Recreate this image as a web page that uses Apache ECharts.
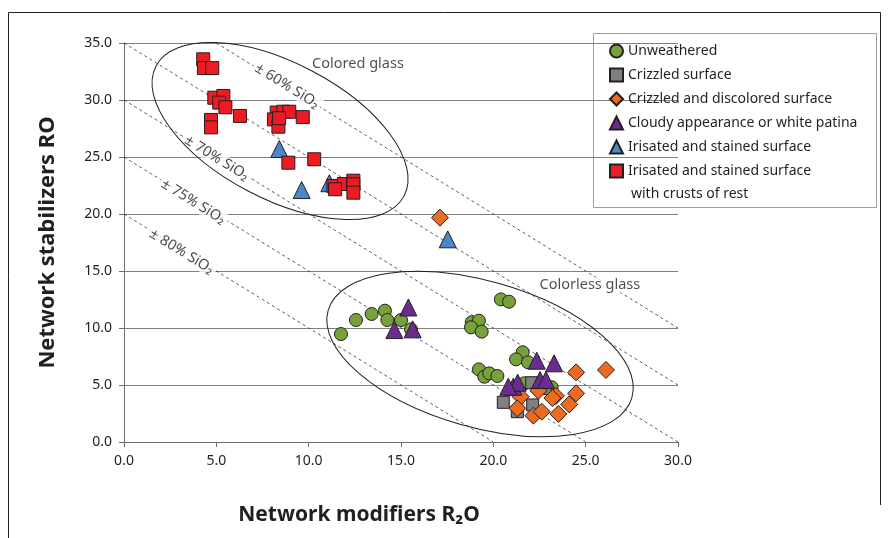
<!DOCTYPE html>
<html>
<head>
<meta charset="utf-8">
<script src="https://cdn.jsdelivr.net/npm/echarts@6/dist/echarts.min.js"></script>
<style>html,body{margin:0;padding:0;background:#fff}#c{width:893px;height:538px}</style>
</head>
<body>
<div id="c"></div>
<script>
// ---- data ----
const xTicks = [0, 5, 10, 15, 20, 25, 30];
const yTicks = [0, 5, 10, 15, 20, 25, 30, 35];
const seriesNames = ['Unweathered', 'Crizzled surface', 'Crizzled and discolored surface',
  'Cloudy appearance or white patina', 'Irisated and stained surface', 'Irisated and stained surface'];
const unweathered = [[11.75,9.47],[12.56,10.7],[13.41,11.23],[14.13,11.52],[14.26,10.7],[15.0,10.7],[15.54,9.88],
  [20.41,12.51],[20.85,12.31],[18.83,10.5],[19.22,10.64],[18.79,10.06],[19.37,9.68],[21.59,7.87],[21.23,7.25],
  [21.88,6.99],[19.22,6.37],[19.51,5.73],[19.78,6.02],[20.22,5.79],[21.68,5.15],[23.16,4.8],[22.3,5.0]];
const crizzled = [[20.54,3.48],[22.08,5.2],[22.8,4.7],[22.13,3.25],[21.3,2.66]];
const crizzledDiscolored = [[17.11,19.68],[24.48,6.11],[26.1,6.32],[21.48,3.98],[22.44,4.5],[23.39,4.04],[24.48,4.27],
  [24.11,3.3],[21.3,2.95],[22.17,2.31],[22.62,2.66],[23.52,2.46],[23.2,3.85]];
const cloudy = [[15.4,11.8],[14.64,9.82],[15.63,9.88],[22.35,7.13],[23.29,6.9],[21.08,4.85],[21.32,5.2],
  [22.53,5.44],[22.85,5.44],[20.81,4.85]];
const irisated = [[8.41,25.7],[9.62,22.1],[11.12,22.7],[17.53,17.78]];
const irisatedCrusts = [[4.29,33.57],[4.33,32.8],[4.78,32.8],[4.89,30.2],[5.38,30.35],[5.16,29.77],[5.49,29.36],
  [6.28,28.6],[4.71,28.25],[4.71,27.6],[8.27,28.9],[8.63,28.97],[8.95,28.97],[8.12,28.3],[8.36,27.66],[8.4,28.4],
  [9.68,28.5],[8.9,24.5],[10.3,24.8],[11.34,22.46],[11.91,22.63],[12.42,22.92],[12.42,22.6],[12.42,21.87],[11.43,22.17]];
const sio2Lines = [[[5,35],[30,10]], [[0,35],[30,5]], [[0,30],[30,0]], [[0,25],[25,0]], [[0,20],[20,0]]];
const sio2Labels = [['± 60% SiO₂', 8.83, 31.23], ['± 70% SiO₂', 5.02, 24.9], ['± 75% SiO₂', 3.75, 21.08], ['± 80% SiO₂', 3.12, 16.7]];
const regionLabels = [['Colored glass', 12.67, 33.16], ['Colorless glass', 25.23, 13.77]];
const regionCenters = [[8.45, 27.28], [19.28, 7.72]];

// ---- chart ----
const FONT = 'Noto Sans';
const chart = echarts.init(document.getElementById('c'), null, {renderer: 'canvas'});
const border = {borderColor: '#231f20', borderWidth: 1};
function sc(name, data, symbol, size, color) {
  return {type: 'scatter', name: name, data: data, symbol: symbol, symbolSize: size, z: 5,
    itemStyle: Object.assign({color: color, opacity: 1}, border), emphasis: {disabled: true}};
}
const series = [];
sio2Lines.forEach(function (l) {
  series.push({type: 'line', data: l, symbol: 'none', silent: true, z: 1,
    lineStyle: {color: '#333', width: 0.8, type: [3, 3]}});
});
series.push({type: 'scatter', silent: true, z: 2, symbolSize: 0,
  data: sio2Labels.map(function (d) { return {name: d[0], value: [d[1], d[2]]}; }),
  label: {show: true, position: 'inside', formatter: '{b}', rotate: -31.7, fontFamily: FONT, fontSize: 14.5,
    color: '#1a1a1a', backgroundColor: '#fff', padding: [0, 3]}});
series.push({type: 'scatter', silent: true, z: 2, symbolSize: 0,
  data: regionLabels.map(function (d) { return {name: d[0], value: [d[1], d[2]]}; }),
  label: {show: true, position: 'inside', formatter: '{b}', fontFamily: FONT, fontSize: 14.5,
    color: '#231f20', backgroundColor: '#fff', padding: [0, 3]}});
series.push(sc(seriesNames[0], unweathered, 'circle', 13, '#77a23b'));
series.push(sc(seriesNames[1], crizzled, 'rect', 12, '#808080'));
series.push(sc(seriesNames[2], crizzledDiscolored, 'diamond', 17, '#ec6b21'));
series.push(sc(seriesNames[3], cloudy, 'triangle', 17, '#6a2d8f'));
series.push(sc(seriesNames[4], irisated, 'triangle', 17, '#4a86c8'));
series.push(sc(seriesNames[5] + ' ', irisatedCrusts, 'rect', 13, '#ed1c24'));

const staticGraphic = [
  {type: 'polyline', shape: {points: [[8.5, 538], [8.5, 12.5], [880.5, 12.5], [880.5, 505]]}, style: {stroke: '#231f20', lineWidth: 1, fill: null}, silent: true},
  {type: 'rect', shape: {x: 593.5, y: 33.5, width: 283, height: 174}, style: {fill: null, stroke: '#a0a0a0', lineWidth: 1}, z: 0, silent: true},
  {type: 'text', x: 631, y: 194, style: {text: 'with crusts of rest', font: '14px "' + FONT + '"', fill: '#231f20', verticalAlign: 'middle'}, silent: true}
];

const option = {
  animation: false,
  backgroundColor: '#fff',
  textStyle: {fontFamily: FONT},
  grid: {left: 124, right: 215, top: 43, bottom: 96},
  legend: {
    orient: 'vertical', left: 609, top: 42, padding: 0, itemGap: 6, itemWidth: 13, itemHeight: 13,
    textStyle: {fontFamily: FONT, fontSize: 14, color: '#231f20', lineHeight: 18},
    data: seriesNames.slice(0, 5).concat([seriesNames[5] + ' ']), selectedMode: false
  },
  xAxis: {
    type: 'value', min: xTicks[0], max: xTicks[xTicks.length - 1], interval: 5,
    axisLine: {lineStyle: {color: '#6d6e71', width: 1}}, axisTick: {show: true, length: 5, lineStyle: {color: '#6d6e71'}},
    splitLine: {show: false},
    axisLabel: {formatter: function (v) { return v.toFixed(1); }, fontFamily: FONT, fontSize: 14, color: '#231f20', margin: 12},
    name: 'Network modifiers R₂O', nameLocation: 'middle', nameGap: 63,
    nameTextStyle: {fontFamily: FONT, fontSize: 21, fontWeight: 'bold', color: '#231f20', padding: [0, 84, 0, 0]}
  },
  yAxis: {
    type: 'value', min: yTicks[0], max: yTicks[yTicks.length - 1], interval: 5,
    axisLine: {show: true, lineStyle: {color: '#6d6e71', width: 1}}, axisTick: {show: true, length: 5, lineStyle: {color: '#6d6e71'}},
    splitLine: {show: true, lineStyle: {color: '#808080', width: 1}},
    axisLabel: {formatter: function (v) { return v.toFixed(1); }, fontFamily: FONT, fontSize: 14, color: '#231f20', margin: 12},
    name: 'Network stabilizers RO', nameLocation: 'middle', nameGap: 65,
    nameTextStyle: {fontFamily: FONT, fontSize: 22, fontWeight: 'bold', color: '#231f20'}
  },
  graphic: staticGraphic,
  series: series
};
chart.setOption(option);

// ellipses outlining the glass groups (pixel radii, rotation in degrees clockwise)
const ellipseShapes = [{rx: 140, ry: 68, rot: 27.6}, {rx: 158, ry: 73, rot: 16}];
const ellipses = regionCenters.map(function (c, i) {
  const p = chart.convertToPixel({gridIndex: 0}, c);
  const e = ellipseShapes[i];
  return {type: 'ellipse', x: p[0], y: p[1], rotation: -e.rot * Math.PI / 180,
    shape: {cx: 0, cy: 0, rx: e.rx, ry: e.ry}, style: {fill: null, stroke: '#231f20', lineWidth: 1}, z: 3, silent: true};
});
chart.setOption({graphic: staticGraphic.concat(ellipses)});
</script>
</body>
</html>
